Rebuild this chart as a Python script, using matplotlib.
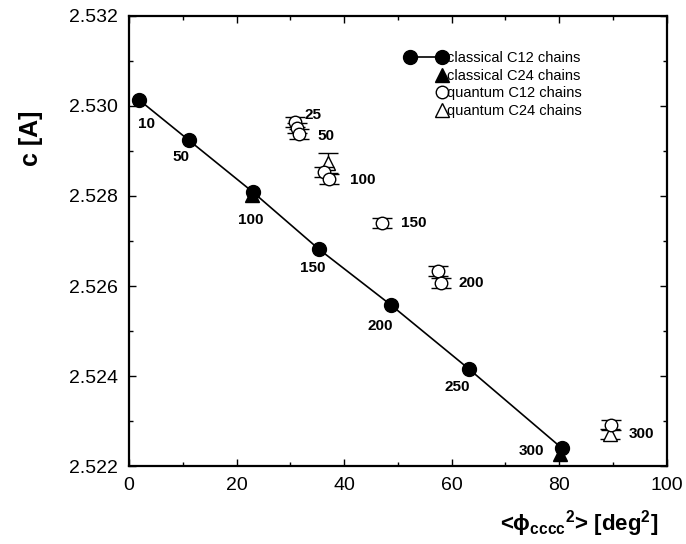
import matplotlib
matplotlib.use("Agg")
import matplotlib.pyplot as plt
from matplotlib.lines import Line2D
from matplotlib.legend_handler import HandlerLine2D
from matplotlib.ticker import MultipleLocator, FormatStrFormatter

plt.rcParams['font.family'] = ['Liberation Sans', 'DejaVu Sans']
plt.rcParams['mathtext.fontset'] = 'custom'
plt.rcParams['mathtext.rm'] = 'Liberation Sans'
plt.rcParams['mathtext.bf'] = 'Liberation Sans:bold'

# classical C12 chains (temperature labels in K)
cl12_T = ["10", "50", "100", "150", "200", "250", "300"]
cl12_x = [1.9, 11.1, 23.0, 35.3, 48.7, 63.2, 80.5]
cl12_y = [2.53013, 2.52924, 2.52809, 2.52682, 2.52558, 2.52416, 2.52240]

# classical C24 chains
cl24_x = [22.9, 80.2]
cl24_y = [2.52803, 2.52227]

# quantum C12 chains
q12_x = [30.9, 31.3, 31.7, 36.2, 37.2, 47.0, 57.4, 58.0, 89.6]
q12_y = [2.52964, 2.52951, 2.52938, 2.52853, 2.52838, 2.52740, 2.52633, 2.52607, 2.52291]
q12_err = [0.00011] * 9

# quantum C24 chains
q24_x = [37.0, 89.4]
q24_y = [2.52873, 2.52271]
q24_err = [0.00022, 0.00011]

# temperature annotations
cl_lab_x = [3.3, 9.7, 22.7, 34.2, 46.8, 61.0, 74.9]
cl_lab_y = [2.52960, 2.52887, 2.52747, 2.52640, 2.52511, 2.52376, 2.52233]
q_lab = ["25", "50", "100", "150", "200", "300"]
q_lab_x = [34.2, 36.6, 43.5, 53.0, 63.6, 95.2]
q_lab_y = [2.52980, 2.52933, 2.52836, 2.52740, 2.52607, 2.52271]

legend_labels = ["classical C12 chains", "classical C24 chains",
                 "quantum C12 chains", "quantum C24 chains"]


class RightMarkerHandler(HandlerLine2D):
    """Legend handler drawing a single marker at the right end of the handle."""

    def create_artists(self, legend, orig_handle, xdescent, ydescent,
                       width, height, fontsize, trans):
        artists = super().create_artists(legend, orig_handle, xdescent,
                                         ydescent, width, height, fontsize,
                                         trans)
        for art in artists:
            n = len(art.get_xdata())
            art.set_markevery([n - 1])
        return artists


fig = plt.figure(figsize=(6.86, 5.44), dpi=100)
ax = fig.add_axes([0.188, 0.143, 0.784, 0.828])

ax.plot(cl12_x, cl12_y, '-o', color='black', lw=1.2, ms=10, zorder=3)
ax.plot(cl24_x, cl24_y, '^', color='black', ms=10, ls='none', zorder=2)
ax.errorbar(q24_x, q24_y, yerr=q24_err, fmt='^', mfc='white', mec='black',
            ecolor='black', ms=10, mew=1.0, elinewidth=1.0, capsize=7,
            capthick=1.0, zorder=4)
ax.errorbar(q12_x, q12_y, yerr=q12_err, fmt='o', mfc='white', mec='black',
            ecolor='black', ms=9, mew=1.0, elinewidth=1.0, capsize=7,
            capthick=1.0, zorder=5)

for t, x, y in zip(cl12_T, cl_lab_x, cl_lab_y):
    ax.text(x, y, t, fontsize=11, fontweight='bold', ha='center', va='center')
for t, x, y in zip(q_lab, q_lab_x, q_lab_y):
    ax.text(x, y, t, fontsize=11, fontweight='bold', ha='center', va='center')

ax.set_xlim(0, 100)
ax.set_ylim(2.522, 2.532)
ax.xaxis.set_major_locator(MultipleLocator(20))
ax.xaxis.set_minor_locator(MultipleLocator(10))
ax.yaxis.set_major_locator(MultipleLocator(0.002))
ax.yaxis.set_minor_locator(MultipleLocator(0.001))
ax.yaxis.set_major_formatter(FormatStrFormatter('%.3f'))
ax.tick_params(which='both', direction='in', top=True, right=True,
               labelsize=14, width=1.0)
ax.tick_params(which='major', length=5, pad=8)
ax.tick_params(which='minor', length=3)
for s in ax.spines.values():
    s.set_linewidth(1.6)

ax.set_ylabel('c [A]', fontsize=18, fontweight='bold')
ax.yaxis.set_label_coords(-0.16, 0.727)
ax.set_xlabel(r'<ϕ$_{\mathbf{cccc}}$$^{\mathbf{2}}$> [deg$^{\mathbf{2}}$]',
              fontsize=16, fontweight='bold')
ax.xaxis.set_label_coords(0.838, -0.092)

# legend: line entry shows both end markers, the others only the right one
handles = [
    Line2D([0, 1], [0, 0], color='black', lw=1.2, marker='o', ms=10),
    Line2D([0, 1], [0, 0], color='black', ls='none', marker='^', ms=10),
    Line2D([0, 1], [0, 0], color='black', ls='none', marker='o', ms=9,
           mfc='white', mew=1.0),
    Line2D([0, 1], [0, 0], color='black', ls='none', marker='^', ms=10,
           mfc='white', mew=1.0),
]
single = RightMarkerHandler()
ax.legend(handles, legend_labels, loc='upper left',
          bbox_to_anchor=(392 / 686, 1 - 38 / 544),
          bbox_transform=fig.transFigure, frameon=False, fontsize=10.5,
          numpoints=2, handlelength=2.86, handletextpad=0.0,
          labelspacing=0.25,
          handler_map={handles[1]: single, handles[2]: single,
                       handles[3]: single})

fig.savefig('out.png', dpi=100)
